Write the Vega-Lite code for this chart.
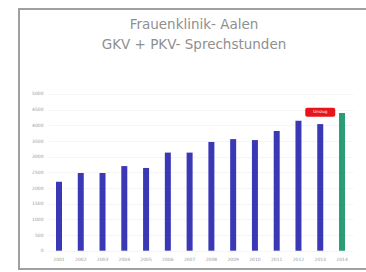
{
  "$schema": "https://vega.github.io/schema/vega-lite/v6.json",
  "width": 350,
  "height": 260,
  "autosize": "none",
  "padding": {"left": 19, "top": 9, "right": 0, "bottom": 3},
  "background": "white",
  "title": {
    "text": "Frauenklinik- Aalen",
    "subtitle": "GKV + PKV- Sprechstunden",
    "anchor": "middle",
    "offset": -42,
    "font": "DejaVu Sans",
    "fontSize": 13.5,
    "fontWeight": "normal",
    "color": "#8f8f8f",
    "subtitleFont": "DejaVu Sans",
    "subtitleFontSize": 13.5,
    "subtitleColor": "#8f8f8f",
    "subtitlePadding": 6
  },
  "config": {
    "view": {"stroke": "#a0a0a0", "strokeWidth": 2},
    "axis": {"labelFont": "DejaVu Sans", "labelFontSize": 4.5, "labelColor": "#999999", "domain": false, "ticks": false, "labelOverlap": false}
  },
  "datasets": {
    "bars": [
      {"year": "2001", "value": 2200, "type": "ist"},
      {"year": "2002", "value": 2480, "type": "ist"},
      {"year": "2003", "value": 2480, "type": "ist"},
      {"year": "2004", "value": 2700, "type": "ist"},
      {"year": "2005", "value": 2640, "type": "ist"},
      {"year": "2006", "value": 3130, "type": "ist"},
      {"year": "2007", "value": 3130, "type": "ist"},
      {"year": "2008", "value": 3470, "type": "ist"},
      {"year": "2009", "value": 3560, "type": "ist"},
      {"year": "2010", "value": 3530, "type": "ist"},
      {"year": "2011", "value": 3820, "type": "ist"},
      {"year": "2012", "value": 4150, "type": "ist"},
      {"year": "2013", "value": 4040, "type": "ist"},
      {"year": "2014", "value": 4390, "type": "plan"}
    ],
    "note": [
      {"year": "2013", "low": 4270, "high": 4560, "mid": 4415, "label": "Umzug"}
    ]
  },
  "layer": [
    {
      "data": {"name": "bars"},
      "mark": {"type": "bar", "width": 6},
      "encoding": {
        "x": {
          "field": "year", "type": "ordinal", "sort": null,
          "scale": {"range": [29.1, 333.9], "paddingInner": 0, "paddingOuter": 0},
          "axis": {"title": null, "labelAngle": 0, "offset": -15, "labelPadding": 2, "grid": false, "labelOverlap": false}
        },
        "y": {
          "field": "value", "type": "quantitative",
          "scale": {"domain": [-584, 7712], "nice": false, "zero": false},
          "axis": {
            "title": null,
            "values": [0, 500, 1000, 1500, 2000, 2500, 3000, 3500, 4000, 4500, 5000],
            "tickCount": 11,
            "format": "d",
            "labelOverlap": false,
            "offset": -24, "labelPadding": 0, "labelAlign": "right",
            "grid": true, "gridColor": "#eeeeee", "gridWidth": 0.6
          }
        },
        "color": {
          "field": "type", "type": "nominal",
          "scale": {"domain": ["ist", "plan"], "range": ["#3a38b4", "#2a9d78"]},
          "legend": null
        }
      }
    },
    {
      "data": {"name": "note"},
      "mark": {"type": "bar", "width": 30, "color": "#e8141c", "cornerRadius": 2},
      "encoding": {
        "x": {"field": "year", "type": "ordinal"},
        "y": {"field": "low", "type": "quantitative"},
        "y2": {"field": "high"}
      }
    },
    {
      "data": {"name": "note"},
      "mark": {"type": "text", "color": "white", "fontSize": 4, "font": "DejaVu Sans"},
      "encoding": {
        "x": {"field": "year", "type": "ordinal"},
        "y": {"field": "mid", "type": "quantitative"},
        "text": {"field": "label"}
      }
    }
  ]
}
